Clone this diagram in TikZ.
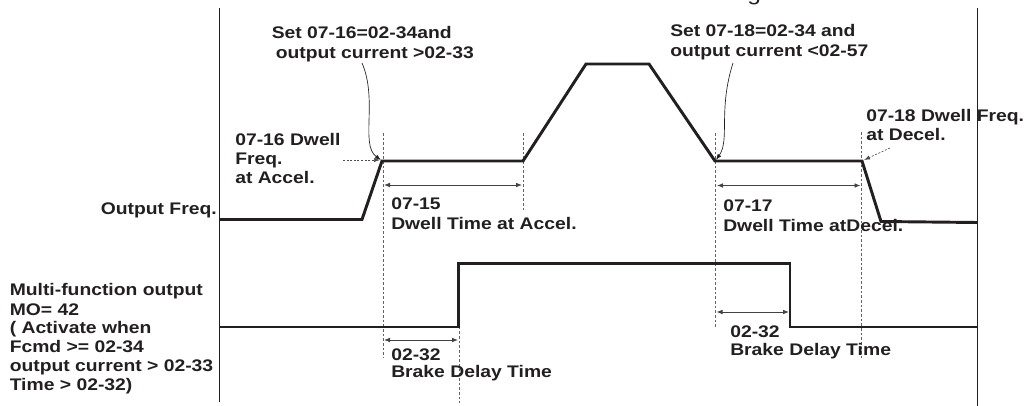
\documentclass[tikz,border=0pt]{standalone}
\usepackage{fontspec}
\setmainfont{Liberation Sans}[FakeStretch=1.15]
\usetikzlibrary{arrows.meta}
\definecolor{ink}{HTML}{231F20}
\newcommand{\mlines}[2]{{\fontsize{12.6}{#1}\selectfont\begin{tabular}[t]{@{}l@{}}#2\end{tabular}}}
\begin{document}
\begin{tikzpicture}[x=0.75pt,y=-0.75pt,
  sig/.style={line width=2.2pt,draw=ink,line join=miter},
  border/.style={line width=0.75pt,draw=ink},
  guide/.style={line width=0.5pt,draw=ink!70,dash pattern=on 2pt off 1.5pt},
  dimline/.style={line width=0.6pt,draw=ink!85,{Latex[length=4.5pt,width=3.5pt]}-{Latex[length=4.5pt,width=3.5pt]}},
  callout/.style={line width=0.5pt,draw=ink,-{Latex[length=4.5pt,width=3.2pt]}},
  dotcall/.style={line width=0.5pt,draw=ink!80,dash pattern=on 1.5pt off 1.2pt,-{Latex[length=4.5pt,width=3.2pt]}},
  lbl/.style={anchor=base west,inner sep=0pt,text=ink,font=\bfseries\fontsize{12.6}{14.25}\selectfont}]
\useasboundingbox (0,0) rectangle (1025,406);
\begin{scope}
\clip (0,0) rectangle (1025,406);
\node[anchor=base west,inner sep=0pt,text=ink,font=\mdseries\fontsize{16}{16}\selectfont] (ttl) at (747,0.5) {g};
\end{scope}
% borders
\coordinate (bl1) at (219,8); \coordinate (bl2) at (219,402);
\coordinate (br1) at (977,8); \coordinate (br2) at (977,406);
\draw[border] (bl1) -- (bl2);
\draw[border] (br1) -- (br2);
% guides
\coordinate (g1a) at (383,133); \coordinate (g1b) at (383,358);
\coordinate (g2a) at (523,133); \coordinate (g2b) at (523,210);
\coordinate (g3a) at (459.5,266); \coordinate (g3b) at (459.5,403);
\coordinate (g4a) at (715.5,133); \coordinate (g4b) at (715.5,328);
\coordinate (g5a) at (861.5,132); \coordinate (g5b) at (861.5,358);
\draw[guide] (g1a) -- (g1b);
\draw[guide] (g2a) -- (g2b);
\draw[guide] (g3a) -- (g3b);
\draw[guide] (g4a) -- (g4b);
\draw[guide] (g5a) -- (g5b);
% output frequency
\coordinate (of0) at (219,219.5); \coordinate (of1) at (362,219.5);
\coordinate (of2) at (382,161); \coordinate (of3) at (523,161);
\coordinate (of4) at (586,64); \coordinate (of5) at (649,64);
\coordinate (of6) at (715,161); \coordinate (of7) at (862,161);
\coordinate (of8) at (881,221.5); \coordinate (of9) at (977,222.5);
\draw[sig] (of0) -- (of1) -- (of2) -- (of3) -- (of4) -- (of5) -- (of6) -- (of7) -- (of8) -- (of9);
% MO signal
\coordinate (mo0) at (219,327); \coordinate (mo1) at (458.5,327);
\coordinate (mo2) at (458.5,263.5); \coordinate (mo3) at (790,263.5);
\coordinate (mo4) at (790,327); \coordinate (mo5) at (977,327);
\draw[sig] (mo0) -- (mo1) -- (mo2) -- (mo3) -- (mo4) -- (mo5);
% dimension arrows
\coordinate (d1a) at (384,185); \coordinate (d1b) at (522,185);
\coordinate (d2a) at (717,185.5); \coordinate (d2b) at (860.5,185.5);
\coordinate (d3a) at (384,340); \coordinate (d3b) at (458,340);
\coordinate (d4a) at (716.5,312); \coordinate (d4b) at (789,312);
\draw[dimline] (d1a) -- (d1b);
\draw[dimline] (d2a) -- (d2b);
\draw[dimline] (d3a) -- (d3b);
\draw[dimline] (d4a) -- (d4b);
% callouts
\coordinate (c1s) at (362,63); \coordinate (c1e) at (381,160);
\draw[callout] (c1s) .. controls (378,100) and (360,145) .. (c1e);
\coordinate (c2s) at (733,63); \coordinate (c2e) at (716,160);
\draw[callout] (c2s) .. controls (718,110) and (730,140) .. (c2e);
\coordinate (c3s) at (343,160); \coordinate (c3e) at (380,160);
\draw[dotcall] (c3s) -- (c3e);
\coordinate (c4s) at (890,148); \coordinate (c4e) at (864,160);
\draw[dotcall] (c4s) -- (c4e);
% labels
\node[lbl] (t1) at (271.5,39) {\mlines{14.8pt}{Set 07-16=02-34and\\\hspace{3pt}output current >02-33}};
\node[lbl] (t2) at (235,146) {\mlines{14.25pt}{07-16 Dwell\\Freq.\\at Accel.}};
\node[lbl] (t3) at (670,37) {\mlines{14.4pt}{Set 07-18=02-34 and\\output current <02-57}};
\node[lbl] (t4) at (866,122) {\mlines{14pt}{07-18 Dwell Freq.\\at Decel.}};
\node[lbl,anchor=base east] (t0) at (217,215) {Output Freq.};
\node[lbl] (t5) at (391,210) {\mlines{15pt}{07-15\\Dwell Time at Accel.}};
\node[lbl] (t6) at (723,212) {\mlines{15pt}{07-17\\Dwell Time atDecel.}};
\node[lbl] (t7) at (9.5,296) {\mlines{14.25pt}{Multi-function output\\MO= 42\\( Activate when\\Fcmd >= 02-34\\output current > 02-33\\Time > 02-32)}};
\node[lbl] (t8) at (391,360) {\mlines{12.9pt}{02-32\\Brake Delay Time}};
\node[lbl] (t9) at (730,337) {\mlines{13.6pt}{02-32\\Brake Delay Time}};
\end{tikzpicture}
\end{document}
